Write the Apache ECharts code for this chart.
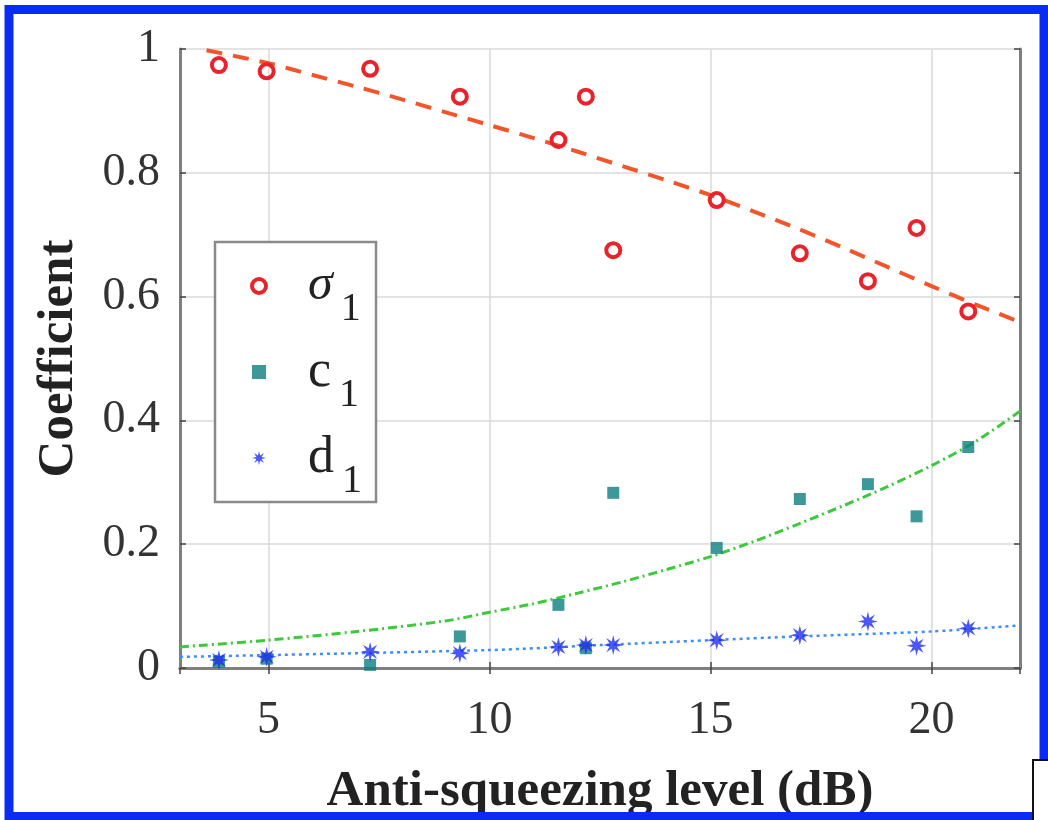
<!DOCTYPE html>
<html>
<head>
<meta charset="utf-8">
<style>html,body{margin:0;padding:0;background:#fff;}#c{width:1048px;height:820px;}</style>
<script src="https://cdn.jsdelivr.net/npm/echarts@6/dist/echarts.min.js"></script>
</head>
<body>
<div id="c"></div>
<script>
// ---- data ----
const xLevel = [3.88, 4.96, 7.30, 9.33, 11.56, 12.18, 12.80, 15.14, 17.02, 18.56, 19.66, 20.83];
const sigma1 = [0.974, 0.964, 0.968, 0.923, 0.853, 0.923, 0.675, 0.756, 0.670, 0.625, 0.711, 0.576];
const c1     = [0.010, 0.015, 0.005, 0.051, 0.102, 0.032, 0.283, 0.194, 0.273, 0.297, 0.245, 0.357];
const d1     = [0.013, 0.018, 0.026, 0.024, 0.034, 0.037, 0.037, 0.045, 0.053, 0.075, 0.036, 0.064];

const sigmaFitX = [3.6, 5, 6, 7, 8, 9, 10, 11, 12, 13, 14, 15, 16, 17, 18, 19, 20, 21, 22];
const sigmaFitY = [0.998, 0.977, 0.958, 0.939, 0.919, 0.898, 0.877, 0.856, 0.834, 0.811, 0.788, 0.764, 0.737, 0.709, 0.679, 0.648, 0.617, 0.587, 0.559];
const cFitX = [3, 5, 7, 9, 10, 11, 12, 13, 14, 15, 16, 17, 18, 19, 20, 21, 22];
const cFitY = [0.034, 0.045, 0.059, 0.076, 0.090, 0.104, 0.121, 0.139, 0.159, 0.180, 0.205, 0.233, 0.262, 0.293, 0.327, 0.366, 0.415];
const dFitX = [3, 10, 12.5, 15, 17, 20, 22];
const dFitY = [0.018, 0.029, 0.037, 0.045, 0.051, 0.059, 0.069];

const xTickValues = [5, 10, 15, 20];
const xTickLabels = ['5', '10', '15', '20'];
const yTickLabels = ['0', '0.2', '0.4', '0.6', '0.8', '1'];
const seriesNames = ['σ1', 'c1', 'd1'];
const legendMain = ['σ', 'c', 'd'];
const legendSub = ['1', '1', '1'];

const xName = 'Anti-squeezing level (dB)';
const yName = 'Coefficient';

// ---- helpers ----
function zip(xs, ys) { return xs.map((x, i) => [x, ys[i]]); }
function starPath() {
  let p = 'path://';
  for (let i = 0; i < 16; i++) {
    const a = i * Math.PI / 8 - Math.PI / 2;
    const r = i % 2 ? 20 : 50;
    const x = (50 + r * Math.cos(a)).toFixed(2);
    const y = (50 + r * Math.sin(a)).toFixed(2);
    p += (i === 0 ? 'M' : 'L') + x + ' ' + y + ' ';
  }
  return p + 'Z';
}
const squarePath = 'path://M0 0 L10 0 L10 10 L0 10 Z';

const FONT = 'Liberation Serif';
const axisGray = '#7f7f7f';

const chart = echarts.init(document.getElementById('c'), null, { renderer: 'canvas' });

const baseX = { type: 'value', min: 3, max: 22, splitNumber: 4 };
const baseY = { type: 'value', min: 0, max: 1, interval: 0.2 };
const tickStyle = { show: true, inside: true, length: 6, lineStyle: { color: '#444', width: 1.5 } };

const option = {
  animation: false,
  backgroundColor: '#ffffff',
  grid: { left: 180, right: 28, top: 49, bottom: 152, containLabel: false, outerBoundsMode: 'none' },
  graphic: [
    { type: 'rect', shape: { x: 9, y: 9.5, width: 1035, height: 807 }, style: { fill: 'none', stroke: '#0a2cf2', lineWidth: 9 }, z: 100 },
    { type: 'rect', shape: { x: 1033, y: 760, width: 40, height: 80 }, style: { fill: '#fff', stroke: '#111', lineWidth: 2 }, z: 101 }
  ],
  legend: {
    data: [
      { name: seriesNames[0], itemStyle: { borderWidth: 4 } },
      { name: seriesNames[1] },
      { name: seriesNames[2] }
    ],
    orient: 'vertical',
    left: 215, top: 242,
    padding: [1, 14, 1, 35],
    itemWidth: 88, itemHeight: 14, itemGap: 0,
    backgroundColor: '#fff',
    borderColor: '#8a8a8a', borderWidth: 2.5,
    selectedMode: false,
    formatter: function (name) {
      const i = seriesNames.indexOf(name);
      return '{' + (i === 0 ? 's' : 'a') + '|' + legendMain[i] + '}{b|' + legendSub[i] + '}';
    },
    textStyle: {
      fontFamily: FONT, color: '#222',
      rich: {
        s: { fontFamily: FONT, fontSize: 50, fontStyle: 'italic', lineHeight: 50, color: '#222' },
        a: { fontFamily: FONT, fontSize: 52, lineHeight: 50, color: '#222' },
        b: { fontFamily: FONT, fontSize: 40, lineHeight: 38, color: '#222', padding: [46, 0, 0, 8] }
      }
    }
  },
  xAxis: [
    Object.assign({}, baseX, {
      position: 'bottom',
      name: xName, nameLocation: 'middle', nameGap: 98,
      nameTextStyle: { fontFamily: FONT, fontSize: 51, fontWeight: 'bold', color: '#222' },
      axisLine: { show: true, lineStyle: { color: axisGray, width: 3 } },
      axisTick: tickStyle,
      axisLabel: {
        showMinLabel: false, showMaxLabel: false, margin: 30,
        fontFamily: FONT, fontSize: 46, color: '#333',
        formatter: v => { const i = xTickValues.indexOf(v); return i >= 0 ? xTickLabels[i] : ''; }
      },
      splitLine: { show: true, lineStyle: { color: '#dadada', width: 1.5 } }
    }),
    Object.assign({}, baseX, {
      position: 'top',
      axisLine: { show: true, lineStyle: { color: axisGray, width: 3 } },
      axisTick: tickStyle,
      axisLabel: { show: false },
      splitLine: { show: false }
    })
  ],
  yAxis: [
    Object.assign({}, baseY, {
      position: 'left',
      name: yName, nameLocation: 'middle', nameGap: 96, nameRotate: 90,
      nameTextStyle: { fontFamily: FONT, fontSize: 51, fontWeight: 'bold', color: '#222' },
      axisLine: { show: true, lineStyle: { color: axisGray, width: 3 } },
      axisTick: tickStyle,
      axisLabel: {
        margin: 20, fontFamily: FONT, fontSize: 46, color: '#333',
        formatter: v => yTickLabels[Math.round(v / 0.2)]
      },
      splitLine: { show: true, lineStyle: { color: '#dadada', width: 1.5 } }
    }),
    Object.assign({}, baseY, {
      position: 'right',
      axisLine: { show: true, lineStyle: { color: axisGray, width: 3 } },
      axisTick: tickStyle,
      axisLabel: { show: false },
      splitLine: { show: false }
    })
  ],
  series: [
    {
      name: 'σ fit', type: 'line', data: zip(sigmaFitX, sigmaFitY), smooth: 0.3,
      showSymbol: false, clip: true, z: 2, silent: true,
      lineStyle: { color: '#f2552a', width: 4, type: [16, 11] }
    },
    {
      name: 'c fit', type: 'line', data: zip(cFitX, cFitY), smooth: 0.3,
      showSymbol: false, clip: true, z: 2, silent: true,
      lineStyle: { color: '#3cc93c', width: 3, type: [9, 4, 2, 4] }
    },
    {
      name: 'd fit', type: 'line', data: zip(dFitX, dFitY), smooth: 0.3,
      showSymbol: false, clip: true, z: 2, silent: true,
      lineStyle: { color: '#3d8cff', width: 2.5, type: [3, 4] }
    },
    {
      name: seriesNames[0], type: 'scatter', data: zip(xLevel, sigma1), z: 5,
      symbol: 'circle', symbolSize: 14,
      itemStyle: { color: 'rgba(255,255,255,0)', borderColor: '#e8232b', borderWidth: 4, opacity: 1 }
    },
    {
      name: seriesNames[1], type: 'scatter', data: zip(xLevel, c1), z: 5,
      symbol: squarePath, symbolSize: 12,
      itemStyle: { color: '#0d7f80' }
    },
    {
      name: seriesNames[2], type: 'scatter', data: zip(xLevel, d1), z: 6,
      symbol: starPath(), symbolSize: 20,
      itemStyle: { color: '#1e2df0' }
    }
  ]
};
chart.setOption(option);
</script>
</body>
</html>
